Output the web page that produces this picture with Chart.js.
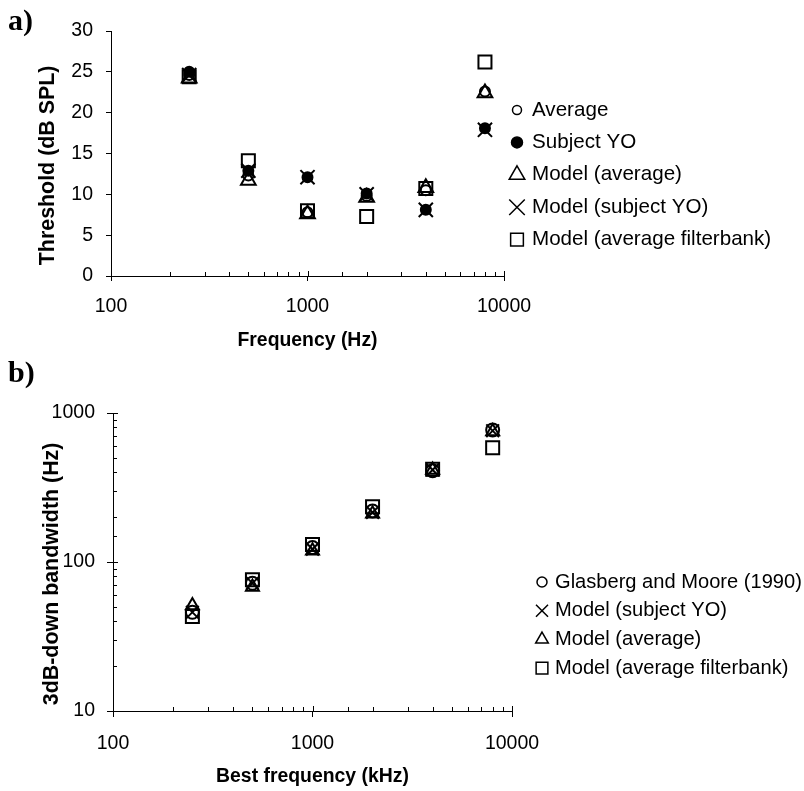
<!DOCTYPE html>
<html>
<head>
<meta charset="utf-8">
<script src="https://cdn.jsdelivr.net/npm/chart.js@4/dist/chart.umd.min.js"></script>
<style>
  body { margin: 0; background: #fff; }
  #wrap { position: relative; width: 804px; height: 791px; }
  canvas { position: absolute; left: 0; }
  .panel { position: absolute; left: 8px; font: bold 30px "Liberation Serif", "Times New Roman", serif; line-height: 1; color: #000; }
</style>
</head>
<body>
<div id="wrap">
  <canvas id="chartA" width="804" height="370" style="top:0"></canvas>
  <canvas id="chartB" width="804" height="421" style="top:370px"></canvas>
  <div class="panel" style="top:5px">a)</div>
  <div class="panel" style="top:357px">b)</div>
</div>
<script>
// panel a: thresholds
const freqA = [250, 500, 1000, 2000, 4000, 8000];
const averageA = [24.6, 12.3, 7.8, 9.8, 10.5, 22.6];
const subjectYO = [25.0, 12.9, 12.1, 10.1, 8.1, 18.1];
const modelAverageA = [24.2, 11.7, 7.6, 9.6, 10.8, 22.4];
const modelSubjectA = [24.6, 12.9, 12.1, 10.0, 8.1, 17.9];
const modelFilterbankA = [24.4, 14.1, 8.0, 7.3, 10.7, 26.2];

// panel b: 3dB-down bandwidths
const freqB = [250, 500, 1000, 2000, 4000, 8000];
const glasbergMoore = [46, 72, 125, 220, 410, 770];
const modelSubjectB = [46, 72, 122, 215, 415, 760];
const modelAverageB = [51, 68, 119, 211, 415, 750];
const modelFilterbankB = [43, 76, 131, 235, 420, 585];

const xTickLabels = [100, 1000, 10000];
const yTickLabelsB = [10, 100, 1000];

const FONT = '"Liberation Sans", Arial, sans-serif';
const tickFont = { family: FONT, size: 19.5 };
const xTitleFont = { family: FONT, size: 19.4, weight: 'bold' };
const yTitleFont = { family: FONT, size: 21.4, weight: 'bold' };

const isDecade = v => Math.abs(Math.log10(v) - Math.round(Math.log10(v))) < 1e-9;

function series(label, xs, ys, style, r, filled) {
  return {
    label: label,
    data: xs.map((x, i) => ({ x: x, y: ys[i] })),
    pointStyle: style,
    pointRadius: r,
    pointHoverRadius: r,
    pointBorderWidth: 2,
    pointBorderColor: '#000',
    pointBackgroundColor: filled ? '#000' : 'rgba(0,0,0,0)',
    showLine: false
  };
}

// small inward ticks on the log axes (majors cross the axis line)
const logTicks = {
  id: 'logTicks',
  afterDraw(chart) {
    const ctx = chart.ctx;
    ctx.save();
    ctx.strokeStyle = '#000';
    ctx.lineWidth = 1;
    Object.values(chart.scales).forEach(scale => {
      if (scale.type !== 'logarithmic') return;
      scale.ticks.forEach(t => {
        const len = isDecade(t.value) ? 5 : 4;
        const p = Math.round(scale.getPixelForValue(t.value)) + 0.5;
        ctx.beginPath();
        if (scale.isHorizontal()) { ctx.moveTo(p, scale.top); ctx.lineTo(p, scale.top - len); }
        else { ctx.moveTo(scale.right, p); ctx.lineTo(scale.right + len, p); }
        ctx.stroke();
      });
    });
    ctx.restore();
  }
};

// legend to the right of the plot
const sideLegend = {
  id: 'sideLegend',
  afterDraw(chart, args, opts) {
    const ctx = chart.ctx;
    ctx.save();
    ctx.font = opts.fontSize + 'px ' + FONT;
    ctx.textBaseline = 'middle';
    chart.data.datasets.forEach((ds, i) => {
      const y = opts.top + i * opts.spacing;
      ctx.strokeStyle = '#000';
      ctx.fillStyle = ds.pointBackgroundColor;
      ctx.lineWidth = 1.5;
      Chart.helpers.drawPoint(ctx, { pointStyle: ds.pointStyle, radius: opts.radii[i], borderWidth: 1.5, rotation: 0 }, opts.markerX, y);
      ctx.fillStyle = '#000';
      ctx.fillText(ds.label, opts.textX, y);
    });
    ctx.restore();
  }
};

function logTickColor(c) {
  return c.tick && isDecade(c.tick.value) ? '#000' : 'rgba(0,0,0,0)';
}

new Chart(document.getElementById('chartA'), {
  type: 'scatter',
  data: {
    datasets: [
      series('Average', freqA, averageA, 'circle', 5, false),
      series('Subject YO', freqA, subjectYO, 'circle', 5, true),
      series('Model (average)', freqA, modelAverageA, 'triangle', 8.5, false),
      series('Model (subject YO)', freqA, modelSubjectA, 'crossRot', 10, false),
      series('Model (average filterbank)', freqA, modelFilterbankA, 'rect', 9.2, false)
    ]
  },
  options: {
    responsive: false,
    animation: false,
    devicePixelRatio: 1,
    layout: { padding: { top: 31, right: 300, left: 0, bottom: 0 } },
    plugins: {
      legend: { display: false },
      tooltip: { enabled: false },
      sideLegend: { markerX: 517, textX: 532, top: 110, spacing: 32.4, fontSize: 20.6, radii: [4.5, 5.5, 9, 11, 9] }
    },
    scales: {
      x: {
        type: 'logarithmic',
        min: 100,
        max: 10000,
        afterFit: s => { s.height = 94; },
        border: { color: '#000', width: 1 },
        grid: { drawOnChartArea: false, tickLength: 5, color: logTickColor },
        ticks: {
          autoSkip: false, maxRotation: 0, padding: 14, color: '#000', font: tickFont,
          callback: v => xTickLabels.includes(v) ? String(v) : ''
        },
        title: { display: true, text: 'Frequency (Hz)', color: '#000', font: xTitleFont, padding: { top: 0, bottom: 18 } }
      },
      y: {
        min: 0,
        max: 30,
        afterFit: s => { s.width = 111; },
        border: { color: '#000', width: 1 },
        grid: { drawOnChartArea: false, tickLength: 5, color: '#000' },
        ticks: { stepSize: 5, padding: 13, color: '#000', font: tickFont },
        title: { display: true, text: 'Threshold (dB SPL)    ', color: '#000', font: yTitleFont, padding: { top: 35, bottom: 0 } }
      }
    }
  },
  plugins: [logTicks, sideLegend]
});

new Chart(document.getElementById('chartB'), {
  type: 'scatter',
  data: {
    datasets: [
      series('Glasberg and Moore (1990)', freqB, glasbergMoore, 'circle', 6.5, false),
      series('Model (subject YO)', freqB, modelSubjectB, 'crossRot', 9, false),
      series('Model (average)', freqB, modelAverageB, 'triangle', 7.5, false),
      series('Model (average filterbank)', freqB, modelFilterbankB, 'rect', 9.2, false)
    ]
  },
  options: {
    responsive: false,
    animation: false,
    devicePixelRatio: 1,
    layout: { padding: { top: 43, right: 292, left: 0, bottom: 0 } },
    plugins: {
      legend: { display: false },
      tooltip: { enabled: false },
      sideLegend: { markerX: 542, textX: 555, top: 212, spacing: 28.7, fontSize: 20.1, radii: [5, 8.5, 7.3, 8.3] }
    },
    scales: {
      x: {
        type: 'logarithmic',
        min: 100,
        max: 10000,
        afterFit: s => { s.height = 80; },
        border: { color: '#000', width: 1 },
        grid: { drawOnChartArea: false, tickLength: 6, color: logTickColor },
        ticks: {
          autoSkip: false, maxRotation: 0, padding: 15, color: '#000', font: tickFont,
          callback: v => xTickLabels.includes(v) ? String(v) : ''
        },
        title: { display: true, text: 'Best frequency (kHz)', color: '#000', font: xTitleFont, padding: { top: 0, bottom: 3 } }
      },
      y: {
        type: 'logarithmic',
        min: 10,
        max: 1000,
        afterFit: s => { s.width = 113; },
        border: { color: '#000', width: 1 },
        grid: { drawOnChartArea: false, tickLength: 6, color: logTickColor },
        ticks: {
          autoSkip: false, padding: 12, color: '#000', font: tickFont,
          callback: v => yTickLabelsB.includes(v) ? String(v) : ''
        },
        title: { display: true, text: '3dB-down bandwidth (Hz)    ', color: '#000', font: yTitleFont, padding: { top: 39, bottom: 0 } }
      }
    }
  },
  plugins: [logTicks, sideLegend]
});
</script>
</body>
</html>
